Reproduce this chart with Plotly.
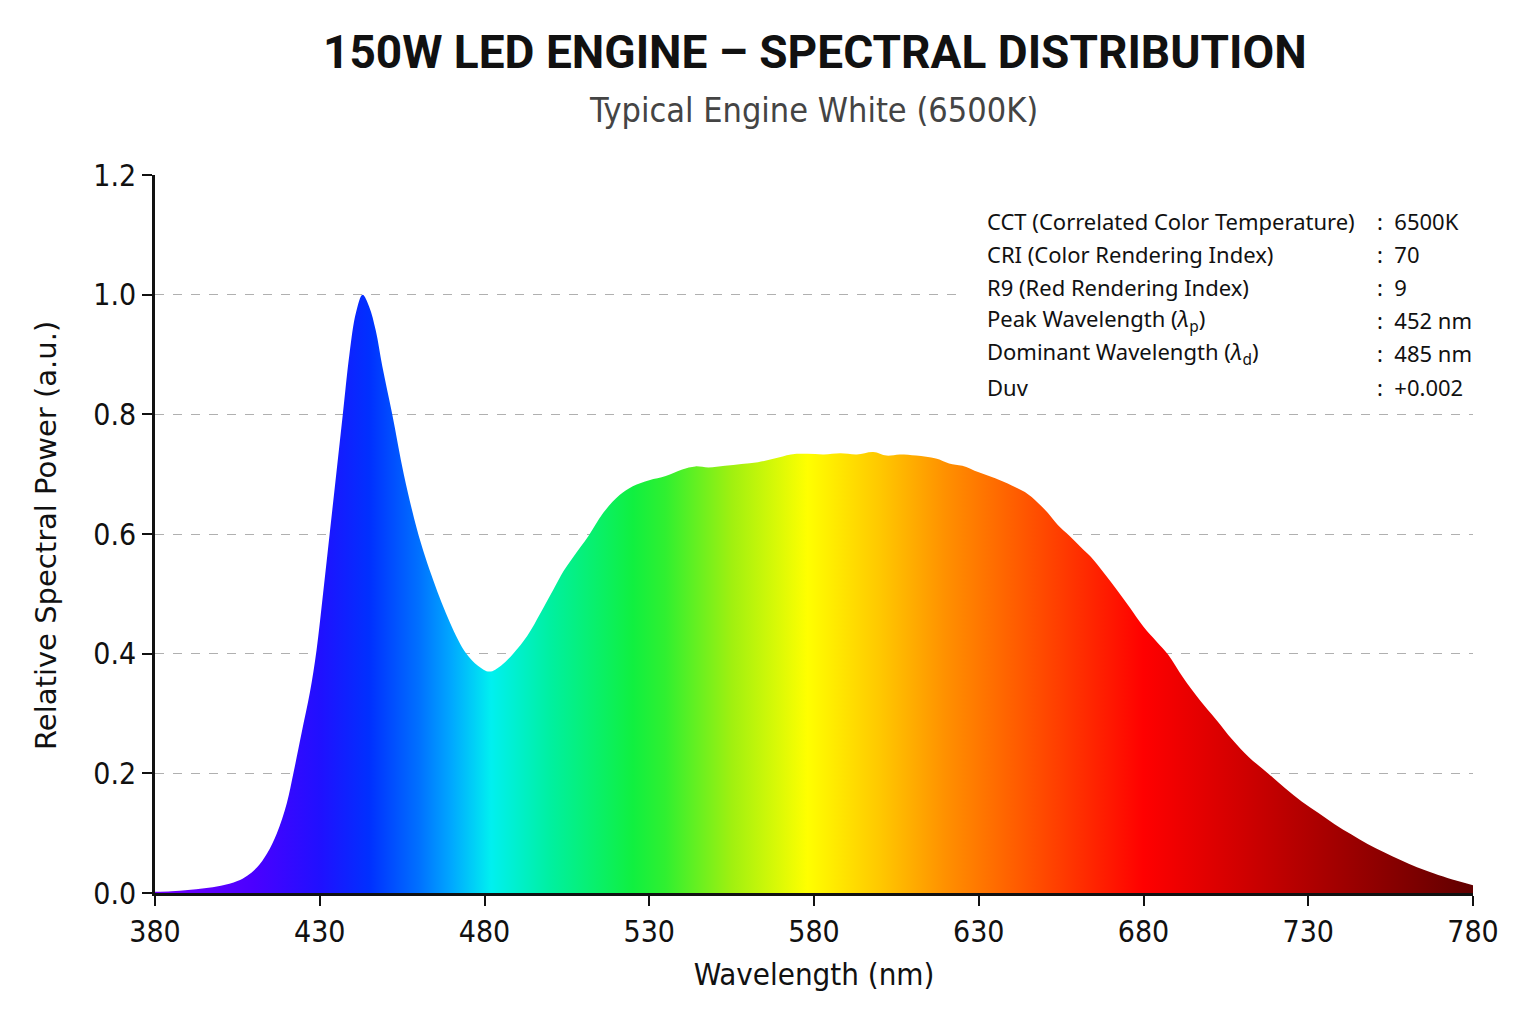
import plotly.graph_objects as go

# ---- data ----
wavelength = [380, 385, 390, 395, 400, 405, 408, 411, 414, 417, 420, 422, 424.5, 427, 429, 431, 433, 435,
              437, 439, 441, 443, 445, 447, 449, 452, 455.5, 459.4, 462, 464.5, 467, 469.5, 472, 474.5,
              478, 481.5, 485, 488.7, 493, 497, 501, 504, 507, 511.6, 516, 521, 525, 530, 535, 540, 544,
              548, 553, 558, 563, 568, 573, 578, 583, 588, 593, 598, 602, 606, 611, 617, 621, 625, 630,
              635, 640, 644, 648, 651, 654, 657.5, 661, 664, 668, 672, 676, 680, 684, 687.5, 692, 697,
              702, 707, 712, 718, 723, 728, 733, 738, 743, 748, 753, 758, 763, 768, 774, 780]
power = [0.002, 0.003, 0.005, 0.008, 0.012, 0.020, 0.029, 0.043, 0.066, 0.100, 0.150, 0.200, 0.268, 0.335,
         0.405, 0.500, 0.600, 0.700, 0.800, 0.900, 0.970, 1.000, 0.980, 0.940, 0.880, 0.800, 0.700, 0.610,
         0.562, 0.522, 0.485, 0.452, 0.423, 0.400, 0.380, 0.370, 0.380, 0.400, 0.430, 0.468, 0.508, 0.538,
         0.562, 0.597, 0.635, 0.665, 0.680, 0.690, 0.697, 0.708, 0.713, 0.711, 0.714, 0.717, 0.720, 0.726,
         0.733, 0.734, 0.733, 0.735, 0.733, 0.737, 0.731, 0.733, 0.731, 0.726, 0.718, 0.714, 0.703, 0.693,
         0.681, 0.670, 0.652, 0.635, 0.615, 0.597, 0.578, 0.562, 0.535, 0.506, 0.476, 0.445, 0.420, 0.398,
         0.360, 0.323, 0.290, 0.256, 0.227, 0.199, 0.175, 0.153, 0.134, 0.115, 0.098, 0.082, 0.068, 0.055,
         0.043, 0.033, 0.022, 0.013]

x_ticks = [380, 430, 480, 530, 580, 630, 680, 730, 780]
y_ticks = [0.0, 0.2, 0.4, 0.6, 0.8, 1.0, 1.2]

spec_labels = ["CCT (Correlated Color Temperature)", "CRI (Color Rendering Index)",
               "R9 (Red Rendering Index)", "Peak Wavelength (<i>λ</i><sub>p</sub>)",
               "Dominant Wavelength (<i>λ</i><sub>d</sub>)", "Duv"]
spec_values = ["6500K", "70", "9", "452 nm", "485 nm", "+0.002"]

# spectral colour stops (wavelength, colour)
grad_wl = [380, 410, 430, 445, 460, 470, 482, 500, 525, 535, 555, 578, 600, 620, 640, 660, 680, 710, 740, 780]
grad_col = ["#7400ff", "#4a00ff", "#2010ff", "#0030ff", "#0070ff", "#00a8ff", "#00f0f0", "#00f0a0",
            "#10f040", "#30f030", "#a0f010", "#ffff00", "#ffc800", "#ff9000", "#ff6000", "#ff3000",
            "#ff0000", "#d00000", "#a00000", "#600000"]

X0, X1 = 380, 780
colorscale = [[(w - X0) / (X1 - X0), c] for w, c in zip(grad_wl, grad_col)]

NARROW = "DejaVu Sans Condensed, sans-serif"
TITLE = "Roboto, sans-serif"
NORMAL = "Noto Sans, Liberation Sans, Arial, sans-serif"
YTITLE = "DejaVu Sans, sans-serif"

fig = go.Figure()
fig.add_trace(go.Scatter(
    x=wavelength, y=power, mode="lines", line=dict(width=0, shape="spline", smoothing=1.0),
    fill="tozeroy",
    fillgradient=dict(type="horizontal", start=X0, stop=X1, colorscale=colorscale),
    hoverinfo="skip", showlegend=False,
))

# plot area geometry in pixels: left 155, right 1473, top 175, bottom 893
def px_x(px):
    return (px - 155) / 1318

def px_y(py):
    return (893 - py) / 718

annotations = [
    dict(text="<b>150W LED ENGINE – SPECTRAL DISTRIBUTION</b>", x=px_x(815), y=px_y(52),
         xref="paper", yref="paper", showarrow=False, xanchor="center", yanchor="middle",
         font=dict(family=TITLE, size=46, color="#111111")),
    dict(text="Typical Engine White (6500K)", x=px_x(813), y=px_y(110),
         xref="paper", yref="paper", showarrow=False, xanchor="center", yanchor="middle",
         font=dict(family=NARROW, size=34, color="#444444")),
    dict(text="Relative Spectral Power (a.u.)", x=px_x(46), y=px_y(536), textangle=-90,
         xref="paper", yref="paper", showarrow=False, xanchor="center", yanchor="middle",
         font=dict(family=YTITLE, size=29, color="#111111")),
]
row_y = [221, 254, 287, 320, 353, 387]
for lab, val, ry in zip(spec_labels, spec_values, row_y):
    annotations.append(dict(text=lab, x=px_x(985), y=px_y(ry), xref="paper", yref="paper",
                            showarrow=False, xanchor="left", yanchor="middle",
                            font=dict(family=NORMAL, size=22, color="#111111")))
    annotations.append(dict(text=":  " + val, x=px_x(1375), y=px_y(ry), xref="paper", yref="paper",
                            showarrow=False, xanchor="left", yanchor="middle",
                            font=dict(family=NORMAL, size=22, color="#111111")))

fig.update_layout(
    width=1536, height=1024,
    margin=dict(l=155, r=63, t=175, b=131),
    paper_bgcolor="white", plot_bgcolor="white",
    annotations=annotations,
    shapes=[dict(type="rect", xref="paper", yref="paper", x0=px_x(958), x1=px_x(1480),
                 y0=px_y(402), y1=px_y(200), fillcolor="white", line=dict(width=0), layer="above")],
    xaxis=dict(range=[X0, X1], tickvals=x_ticks, ticktext=[str(v) for v in x_ticks],
               showgrid=False, zeroline=False, showline=True, linecolor="#111111", linewidth=2.5,
               ticks="outside", ticklen=10, tickwidth=1.5, tickcolor="#111111",
               tickfont=dict(family=NARROW, size=30, color="#111111"),
               title=dict(text="Wavelength (nm)", standoff=16,
                          font=dict(family=NARROW, size=31, color="#111111"))),
    yaxis=dict(range=[0, 1.2], tickvals=y_ticks, tickformat=".1f",
               showgrid=True, gridcolor="#b0b0b0", griddash="dash", gridwidth=1,
               zeroline=False, showline=True, linecolor="#111111", linewidth=2.5,
               ticks="outside", ticklen=10, tickwidth=1.5, tickcolor="#111111",
               tickfont=dict(family=NARROW, size=30, color="#111111")),
)

fig.write_html("out.html")
